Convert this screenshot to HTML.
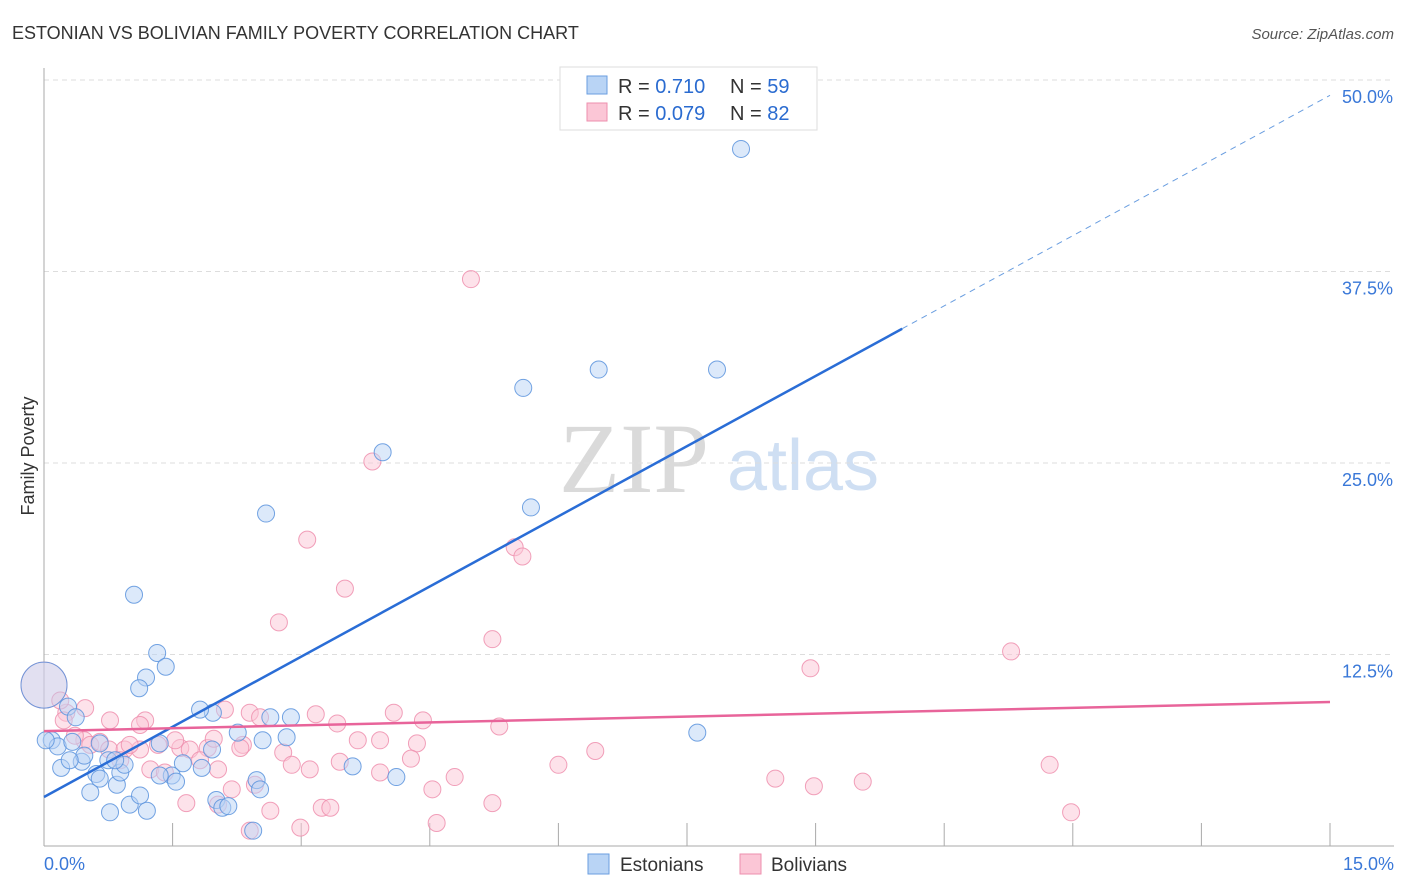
<!DOCTYPE html>
<html><head><meta charset="utf-8"><style>
body{margin:0;background:#fff;font-family:"Liberation Sans",sans-serif}
svg{display:block}
</style></head><body>
<svg id="c" width="1406" height="892">
<text x="12" y="39" font-size="18" fill="#333">ESTONIAN VS BOLIVIAN FAMILY POVERTY CORRELATION CHART</text>
<text x="1394" y="39" font-size="15" fill="#555" font-style="italic" text-anchor="end">Source: ZipAtlas.com</text>
<text x="34" y="456" font-size="18" fill="#333" text-anchor="middle" transform="rotate(-90 34 456)">Family Poverty</text>
<g><text x="634" y="492" font-size="100" fill="#dadada" font-family="Liberation Serif,serif" text-anchor="middle">ZIP</text><text x="803" y="490" font-size="72" fill="#cfdff3" text-anchor="middle">atlas</text></g>
<g id="grid"></g><g id="marks"></g><g id="lines"></g>
<g>
<rect x="560" y="67" width="257" height="63" fill="#fff" stroke="#ddd"/>
<rect x="587" y="76" width="20" height="18" fill="#b9d4f5" stroke="#6a9ee0"/>
<rect x="587" y="103" width="20" height="18" fill="#fbc6d6" stroke="#ee8fae"/>
<text x="618" y="93" font-size="20" fill="#333">R = <tspan fill="#2a6bd0">0.710</tspan><tspan x="730">N = </tspan><tspan fill="#2a6bd0">59</tspan></text>
<text x="618" y="120" font-size="20" fill="#333">R = <tspan fill="#2a6bd0">0.079</tspan><tspan x="730">N = </tspan><tspan fill="#2a6bd0">82</tspan></text>
</g>
<g>
<rect x="588" y="854" width="21" height="20" fill="#b9d4f5" stroke="#6a9ee0"/>
<text x="620" y="871" font-size="19" fill="#333">Estonians</text>
<rect x="740" y="854" width="21" height="20" fill="#fbc6d6" stroke="#ee8fae"/>
<text x="771" y="871" font-size="19" fill="#333">Bolivians</text>
</g>
</svg>
<script>
const yTicks=[12.5,25,37.5,50];
const yTickLabels=["12.5%","25.0%","37.5%","50.0%"];
const xTickVals=[1.5,3,4.5,6,7.5,9,10.5,12,13.5,15];
const estX=[8.13,6.47,7.85,5.59,3.95,5.68,2.59,1.05,1.32,1.19,1.42,1.11,0,0.28,0.37,0.65,0.09,0.16,0.33,0.44,0.2,0.61,0.54,0.77,0.75,1.0,1.2,1.12,0.85,0.89,0.94,1.35,1.62,1.49,1.54,1.84,1.97,1.96,2.01,2.08,2.15,2.26,2.55,2.48,2.64,2.88,2.83,2.44,3.6,4.11,7.62,0.02,0.47,0.3,0.83,0.65,1.82,1.35,2.52];
const estY=[45.5,31.1,31.1,29.9,25.7,22.1,21.7,16.4,12.6,11.0,11.7,10.3,10.5,9.1,8.4,6.7,6.9,6.5,6.8,5.5,5.1,4.7,3.5,2.2,5.6,2.7,2.3,3.3,4.0,4.8,5.3,6.7,5.4,4.6,4.2,5.1,8.7,6.3,3.0,2.5,2.6,7.4,6.9,4.3,8.4,8.4,7.1,1.0,5.2,4.5,7.4,6.9,5.9,5.6,5.6,4.4,8.9,4.6,3.7];
const bolX=[4.98,3.83,3.07,5.49,5.58,3.51,2.74,5.23,8.94,11.28,0,0.26,0.48,0.77,1.18,0.47,0.54,0.65,0.76,0.94,1.12,1.33,1.59,1.70,1.91,1.98,2.11,2.4,2.52,2.32,2.29,2.79,3.17,3.42,3.66,3.92,4.08,4.42,4.35,4.28,3.45,3.92,4.79,4.53,5.31,6.0,6.43,8.53,8.98,9.55,11.73,11.98,2.03,2.19,2.46,2.64,2.99,3.24,3.34,4.58,5.23,1.66,2.03,2.4,1.24,1.41,0.89,0.23,0.36,1.12,1.82,2.89,3.10,1.53,0.19,1.0];
const bolY=[37.0,25.1,20.0,19.5,18.9,16.8,14.6,13.5,11.6,12.7,10.5,8.7,9.0,8.2,8.2,6.9,6.6,6.8,6.3,6.3,6.3,6.6,6.4,6.3,6.4,7.0,8.9,8.7,8.4,6.6,6.4,6.1,8.6,8.0,6.9,6.9,8.7,8.2,6.7,5.7,5.5,4.8,4.5,3.7,7.8,5.3,6.2,4.4,3.9,4.2,5.3,2.2,5.0,3.7,4.0,2.3,1.2,2.5,2.5,1.5,2.8,2.8,2.7,1.0,5.0,4.8,5.6,8.2,7.2,7.9,5.6,5.3,5.0,6.9,9.5,6.6];
const estTrend=[3.2,49.0];
const bolTrend=[7.5,9.4];
const X0=44,X1=1330,Y0=846,PXY=191.5/12.5;
const sx=v=>X0+(X1-X0)*v/15, sy=v=>Y0-v*PXY;
const NS="http://www.w3.org/2000/svg";
function mk(t,p,a){const e=document.createElementNS(NS,t);for(const k in a)e.setAttribute(k,a[k]);p.appendChild(e);return e;}
const grid=document.getElementById('grid'),marks=document.getElementById('marks'),lines=document.getElementById('lines');
yTicks.forEach((v,i)=>{
  const l=mk('line',grid,{x1:X0,x2:1394,y1:sy(v),y2:sy(v),stroke:'#ddd','stroke-dasharray':'5,4'});
  
  
  const t=mk('text',grid,{x:1393,y:sy(v)+23,'font-size':18,fill:'#3a78d8','text-anchor':'end'});
  t.textContent=yTickLabels[i];
  
  
});
const ax=mk('line',grid,{x1:X0,x2:1394,y1:Y0,y2:Y0,stroke:'#aaa'});


const ay=mk('line',grid,{x1:X0,x2:X0,y1:68,y2:Y0,stroke:'#aaa'});


xTickVals.forEach(v=>{const t=mk('line',grid,{x1:sx(v),x2:sx(v),y1:823,y2:Y0,stroke:'#aaa'});
  
  });
[["0.0%",44,'start'],["15.0%",1394,'end']].forEach(a=>{const t=mk('text',grid,{x:a[1],y:870,'font-size':18,fill:'#3a78d8','text-anchor':a[2]});t.textContent=a[0];
  
  });
function pts(xs,ys,fill,stroke,name){xs.forEach((x,i)=>{const big=(x===0&&ys[i]===10.5);
  const c=mk('circle',marks,{cx:sx(x),cy:sy(ys[i]),r:big?23:8.5,fill:fill,'fill-opacity':big?0.4:0.5,stroke:stroke,'stroke-width':1,'stroke-opacity':0.85});
  
  });}
pts(bolX,bolY,'#fbc6d6','#ee8fae','bolivian-point');
pts(estX,estY,'#b9d4f5','#5b93dd','estonian-point');
const xs=10.01,ym=estTrend[0]+(estTrend[1]-estTrend[0])*xs/15;
const l1=mk('line',lines,{x1:sx(0),y1:sy(estTrend[0]),x2:sx(xs),y2:sy(ym),stroke:'#2a6dd6','stroke-width':2.5});


const l2=mk('line',lines,{x1:sx(xs),y1:sy(ym),x2:sx(15),y2:sy(estTrend[1]),stroke:'#6a9ee0','stroke-width':1,'stroke-dasharray':'6,5'});


const l3=mk('line',lines,{x1:sx(0),y1:sy(bolTrend[0]),x2:sx(15),y2:sy(bolTrend[1]),stroke:'#e8649a','stroke-width':2.5});


</script>
</body></html>
